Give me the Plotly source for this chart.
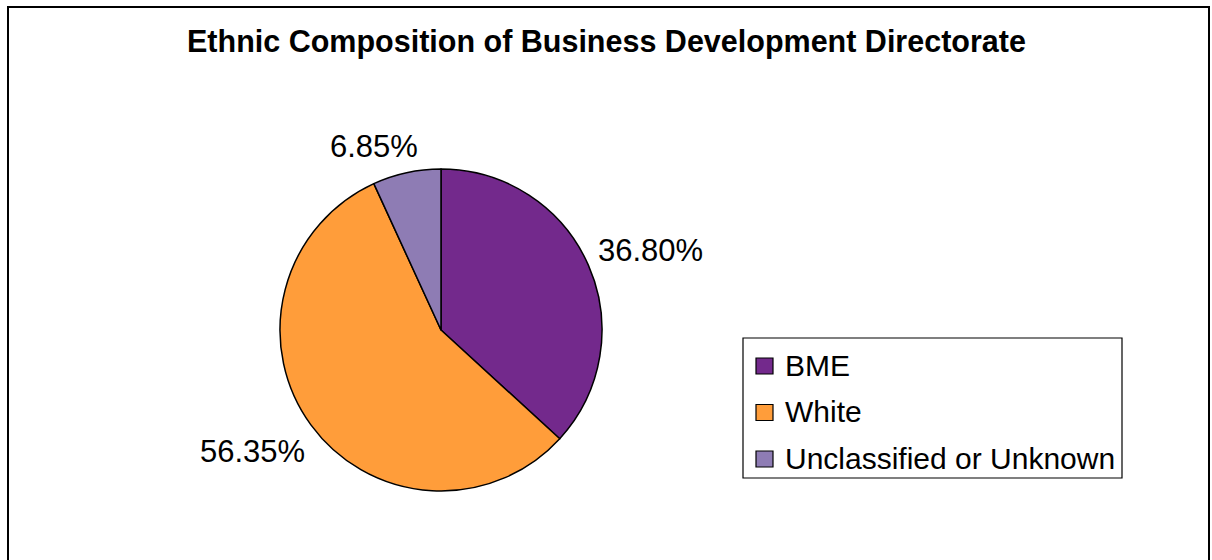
import math
import plotly.graph_objects as go

# Data
categories = ["BME", "White", "Unclassified or Unknown"]
shares = [36.80, 56.35, 6.85]
slice_colors = ["#73298C", "#FF9D3A", "#8E7CB4"]
title_text = "Ethnic Composition of Business Development Directorate"

W, H = 1212, 560
FONT = "Arial, Liberation Sans, sans-serif"

# Pie geometry in pixels
cx, cy, r = 441, 330, 161


def px(x):
    return x / W


def py(y):
    return 1 - y / H


fig = go.Figure()
fig.add_trace(go.Pie(
    labels=categories,
    values=shares,
    marker=dict(colors=slice_colors, line=dict(color="black", width=1.5)),
    sort=False,
    direction="clockwise",
    rotation=0,
    textinfo="none",
    hoverinfo="label+percent",
    showlegend=False,
    domain=dict(x=[px(cx - r), px(cx + r)], y=[py(cy + r), py(cy - r)]),
))

annotations = []
shapes = []

# Outer chart frame
shapes.append(dict(type="rect", xref="paper", yref="paper",
                   x0=px(8), x1=px(1209), y0=py(575), y1=py(7),
                   line=dict(color="black", width=2)))

# Title
annotations.append(dict(text="<b>" + title_text + "</b>", x=px(606), y=py(42),
                        xref="paper", yref="paper", showarrow=False,
                        xanchor="center", yanchor="middle",
                        font=dict(family=FONT, size=30.5, color="black")))

# Percentage labels placed just outside each slice
label_font = 31
nudges = [(3, -3), (-6, 10), (-21, 1)]
total = sum(shares)
cum = 0.0
for val, (ndx, ndy) in zip(shares, nudges):
    mid = (cum + val / 2) / total * 2 * math.pi
    cum += val
    s, c = math.sin(mid), math.cos(mid)
    txt = f"{val:.2f}%"
    hw = 0.5 * 30 * (0.556 * 4 + 0.278 + 0.889) * len(txt) / 6
    hh = 14
    lx = cx + 175 * s + hw * s + ndx
    ly = cy - 175 * c - hh * c + ndy
    annotations.append(dict(text=txt, x=px(lx), y=py(ly), xref="paper", yref="paper",
                            showarrow=False, xanchor="center", yanchor="middle",
                            font=dict(family=FONT, size=label_font, color="black")))

# Legend box
shapes.append(dict(type="rect", xref="paper", yref="paper",
                   x0=px(743), x1=px(1122), y0=py(478), y1=py(338),
                   line=dict(color="black", width=1.2), fillcolor="white"))
row_y = [366, 412.5, 459]
for name, col, ry in zip(categories, slice_colors, row_y):
    shapes.append(dict(type="rect", xref="paper", yref="paper",
                       x0=px(756), x1=px(773), y0=py(ry + 8), y1=py(ry - 8),
                       line=dict(color="black", width=1.2), fillcolor=col))
    annotations.append(dict(text=name, x=px(783), y=py(ry - 1), xref="paper", yref="paper",
                            showarrow=False, xanchor="left", yanchor="middle",
                            font=dict(family=FONT, size=30, color="black")))

fig.update_layout(
    width=W, height=H,
    margin=dict(l=0, r=0, t=0, b=0),
    paper_bgcolor="white",
    plot_bgcolor="white",
    shapes=shapes,
    annotations=annotations,
    showlegend=False,
)

fig.write_html("out.html")
